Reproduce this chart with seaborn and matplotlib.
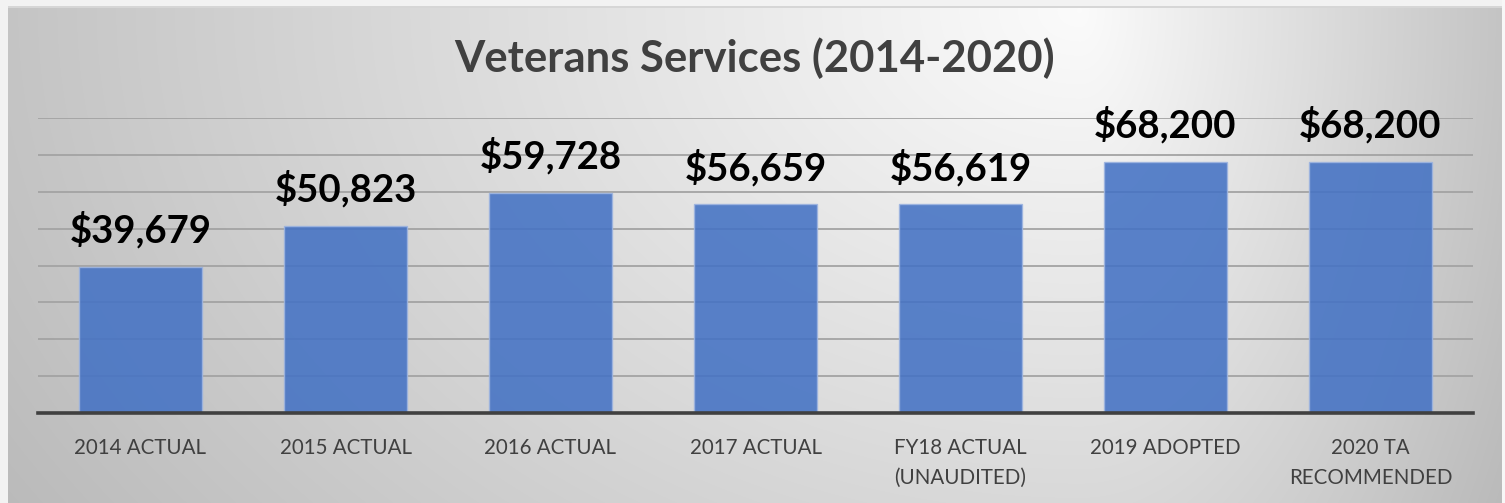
import numpy as np
import pandas as pd
import matplotlib
matplotlib.use("Agg")
import matplotlib.pyplot as plt
import seaborn as sns

# Budget figures for the Veterans Services line item
categories = [
    "2014 ACTUAL",
    "2015 ACTUAL",
    "2016 ACTUAL",
    "2017 ACTUAL",
    "FY18 ACTUAL\n(UNAUDITED)",
    "2019 ADOPTED",
    "2020 TA\nRECOMMENDED",
]
amounts = [39679, 50823, 59728, 56659, 56619, 68200, 68200]
title = "Veterans Services (2014-2020)"

df = pd.DataFrame({"category": categories, "amount": amounts})

sns.set_theme(style="white")
plt.rcParams["font.family"] = ["Lato", "DejaVu Sans"]

W, H = 1505, 503
fig = plt.figure(figsize=(W / 100, H / 100), dpi=100)

# Soft grey backdrop with a bright spot near the top, framed by a pale margin
yy, xx = np.mgrid[0:H, 0:W].astype(float)
cx, cy = 1080.0, 10.0
rx = np.where(xx < cx, 1100.0, 430.0)
ry = 800.0
d = np.sqrt(((xx - cx) / rx) ** 2 + ((yy - cy) / ry) ** 2)
shade = 0.985 - 0.22 * np.clip(d, 0, 1.2)
shade[:, :8] = 0.95
shade[:6, :] = 0.95
shade[6:8, 8:] = 0.84
shade[:, 1502:] = 0.97
bg = fig.add_axes([0, 0, 1, 1], zorder=-10)
bg.imshow(np.dstack([shade] * 3), aspect="auto", interpolation="bilinear")
bg.set_axis_off()

ax = fig.add_axes([38 / W, 1 - 413 / H, (1473 - 38) / W, (413 - 118) / H])
ax.set_facecolor("none")

sns.barplot(
    data=df, x="category", y="amount", ax=ax,
    color="#4472C4", saturation=1, width=0.6, alpha=0.88,
    edgecolor="#9db4e0", linewidth=1.0,
)

ax.set_ylim(0, 80000)
ax.set_yticks(np.arange(0, 80001, 10000))
ax.set_yticklabels([])
ax.set_axisbelow(True)
ax.yaxis.grid(True, color="#a3a3a3", linewidth=1.3)
ax.set_xlabel("")
ax.set_ylabel("")
for side in ("left", "right", "top"):
    ax.spines[side].set_visible(False)
ax.spines["bottom"].set_color("#404040")
ax.spines["bottom"].set_linewidth(2.6)
ax.tick_params(axis="both", length=0)
ax.tick_params(axis="x", pad=18, labelsize=14.8, labelcolor="#404040")
for lbl in ax.get_xticklabels():
    lbl.set_linespacing(1.6)

ax.bar_label(
    ax.containers[0],
    labels=[f"${v:,.0f}" for v in amounts],
    padding=13, fontsize=27.6, fontweight="bold", color="#000000",
)

fig.text(755 / W, 1 - 58 / H, title, ha="center", va="center",
         fontsize=31.4, fontweight="bold", color="#404040")

fig.savefig("out.png", dpi=100)
